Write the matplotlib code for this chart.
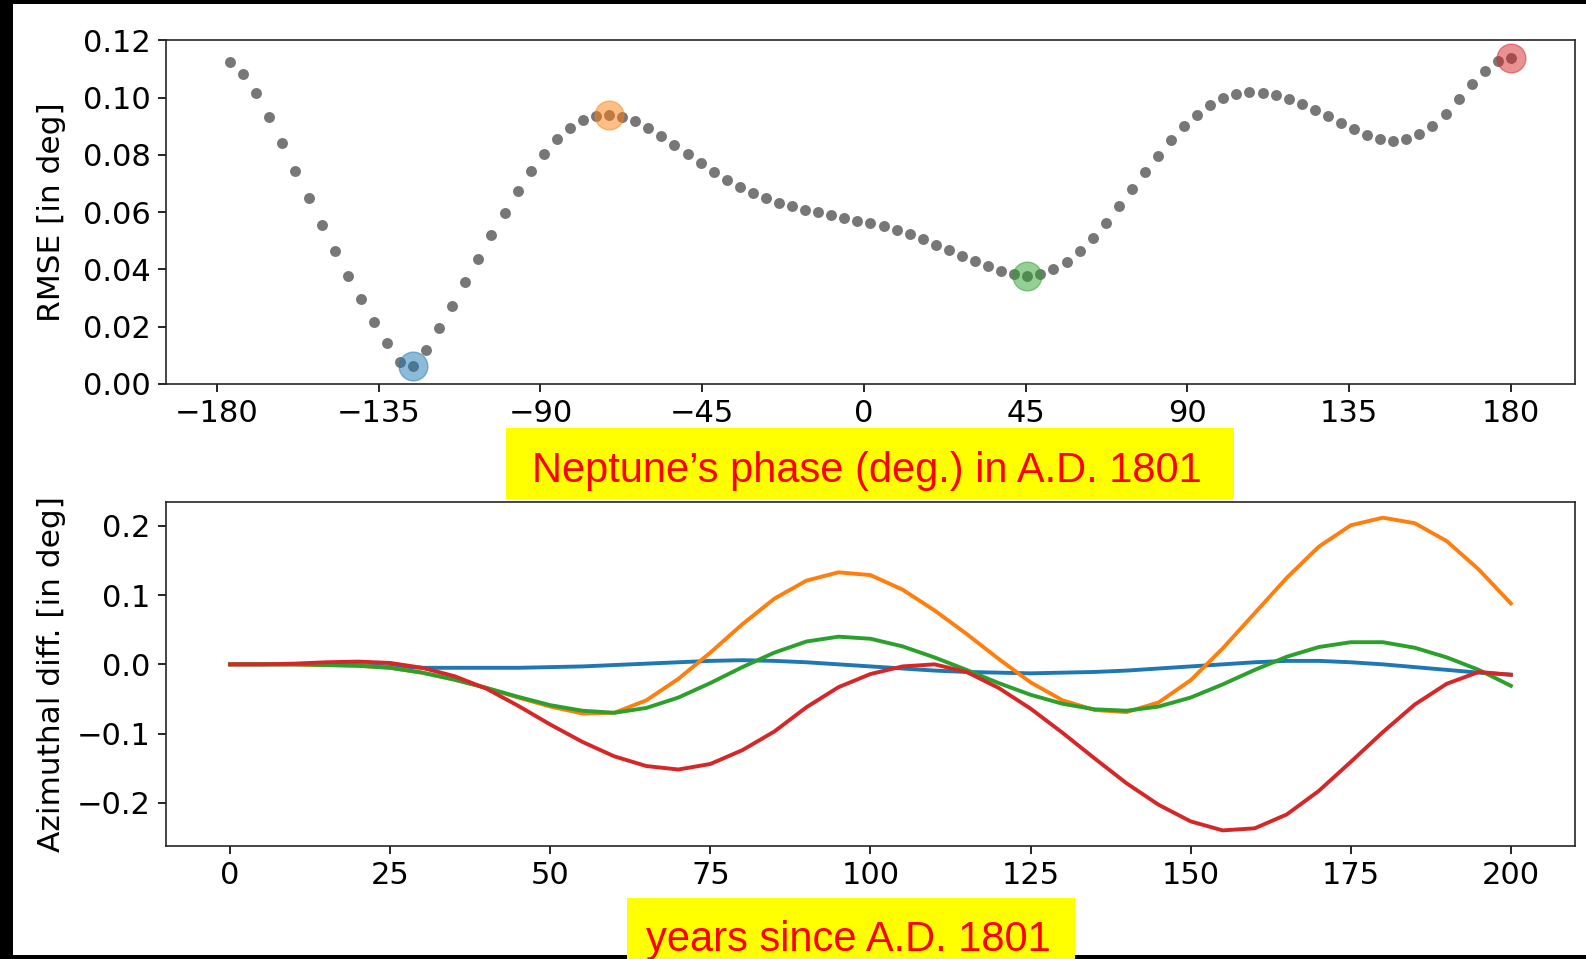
import numpy as np
import matplotlib.pyplot as plt
from matplotlib.patches import Rectangle

# RMSE of the fit for each assumed Neptune phase in 1801
phase = np.linspace(-180, 180, 100)[1:]
rmse = [0.1125, 0.1083, 0.1015, 0.0934, 0.0841, 0.0745, 0.0649, 0.0556, 0.0465, 0.0378,
        0.0297, 0.0216, 0.0143, 0.0076, 0.0064, 0.0120, 0.0197, 0.0274, 0.0355, 0.0437,
        0.0520, 0.0599, 0.0675, 0.0743, 0.0804, 0.0855, 0.0895, 0.0922, 0.0936, 0.0940,
        0.0934, 0.0917, 0.0893, 0.0866, 0.0836, 0.0803, 0.0771, 0.0741, 0.0714,
        0.0689, 0.0668, 0.0648, 0.0633, 0.0621, 0.0609, 0.0600, 0.0591, 0.0580, 0.0571,
        0.0562, 0.0551, 0.0537, 0.0523, 0.0506, 0.0487, 0.0467, 0.0447, 0.0430, 0.0411,
        0.0395, 0.0383, 0.0378, 0.0385, 0.0401, 0.0427, 0.0465, 0.0509, 0.0563, 0.0621,
        0.0680, 0.0740, 0.0798, 0.0852, 0.0900, 0.0940, 0.0973, 0.0998, 0.1013, 0.1019,
        0.1017, 0.1009, 0.0994, 0.0978, 0.0958, 0.0936, 0.0911, 0.0889, 0.0869, 0.0855,
        0.0849, 0.0856, 0.0872, 0.0902, 0.0944, 0.0994, 0.1048, 0.1095, 0.1128, 0.1140]

# the four phases picked out (index into phase) and their colours
picks = [14, 29, 61, 98]
pick_colors = ['tab:blue', 'tab:orange', 'tab:green', 'tab:red']

# azimuthal difference over 200 years for the four picked phases
years = np.arange(0, 201, 5)
diff_blue = [0.000, 0.000, 0.000, 0.000, -0.001, -0.003, -0.005, -0.005, -0.005, -0.005,
             -0.004, -0.003, -0.001, 0.001, 0.003, 0.005, 0.006, 0.005, 0.003, 0.000,
             -0.003, -0.006, -0.009, -0.011, -0.012, -0.013, -0.012, -0.011, -0.009, -0.006,
             -0.003, 0.000, 0.003, 0.005, 0.005, 0.003, 0.000, -0.004, -0.008, -0.012, -0.015]
diff_orange = [0.000, 0.000, 0.000, -0.001, -0.002, -0.005, -0.012, -0.022, -0.034, -0.048,
               -0.061, -0.071, -0.070, -0.052, -0.021, 0.017, 0.058, 0.095, 0.121, 0.133,
               0.129, 0.108, 0.078, 0.044, 0.008, -0.026, -0.052, -0.066, -0.069, -0.055,
               -0.023, 0.023, 0.074, 0.125, 0.170, 0.201, 0.212, 0.204, 0.178, 0.137, 0.088]
diff_green = [0.000, 0.000, 0.000, -0.001, -0.002, -0.005, -0.012, -0.022, -0.034, -0.047,
              -0.059, -0.067, -0.070, -0.063, -0.048, -0.027, -0.004, 0.017, 0.033, 0.040,
              0.037, 0.026, 0.010, -0.008, -0.027, -0.044, -0.057, -0.065, -0.067, -0.061,
              -0.048, -0.029, -0.008, 0.011, 0.025, 0.032, 0.032, 0.024, 0.010, -0.008, -0.031]
diff_red = [0.000, 0.000, 0.001, 0.003, 0.004, 0.002, -0.005, -0.017, -0.035, -0.060,
            -0.087, -0.112, -0.133, -0.147, -0.152, -0.144, -0.124, -0.097, -0.062, -0.033,
            -0.014, -0.003, 0.000, -0.011, -0.034, -0.064, -0.099, -0.136, -0.172, -0.203,
            -0.227, -0.240, -0.237, -0.217, -0.183, -0.141, -0.098, -0.058, -0.028, -0.011, -0.015]

plt.rcParams['font.size'] = 22
plt.rcParams['axes.linewidth'] = 1.2
plt.rcParams['axes.edgecolor'] = '#262626'
plt.rcParams['xtick.major.size'] = 6
plt.rcParams['ytick.major.size'] = 6
plt.rcParams['xtick.major.width'] = 1.2
plt.rcParams['ytick.major.width'] = 1.2
plt.rcParams['xtick.major.pad'] = 5
plt.rcParams['ytick.major.pad'] = 5

fig = plt.figure(figsize=(15.86, 9.59), dpi=100)
ax1 = fig.add_axes([0.1047, 0.5996, 0.8883, 0.3582])
ax2 = fig.add_axes([0.1047, 0.1178, 0.8883, 0.3587])

#top: RMSE vs phase
rmse = np.array(rmse)
ax1.scatter(phase, rmse, s=62, color='#777777', lw=0, zorder=2)
for i, c in zip(picks, pick_colors):
    ax1.scatter(phase[i], rmse[i], s=430, color=c, alpha=0.5, zorder=3)
ax1.set_ylim(0, 0.12)
ax1.set_yticks(np.arange(0, 0.121, 0.02))
ax1.set_xticks(np.arange(-180, 181, 45))
ax1.set_ylabel('RMSE [in deg]', fontsize=22.5)
ax1.yaxis.set_label_coords(-0.071, 0.5)

#bottom: azimuthal difference vs time
for d, c in zip([diff_blue, diff_orange, diff_green, diff_red], pick_colors):
    ax2.plot(years, d, color=c, lw=2.8, solid_joinstyle='round')
ax2.set_xticks(np.arange(0, 201, 25))
ax2.set_yticks([-0.2, -0.1, 0.0, 0.1, 0.2])
ax2.set_ylabel('Azimuthal diff. [in deg]', fontsize=22.5)
ax2.yaxis.set_label_coords(-0.071, 0.5)

#slide frame (black edges)
for xy, w, h in [((0, 0), 0.0082, 1), ((0, 0.9958), 1, 0.0042), ((0, 0), 1, 0.0042)]:
    fig.add_artist(Rectangle(xy, w, h, transform=fig.transFigure, color='k', lw=0))

#yellow axis captions
fig.add_artist(Rectangle((0.3190, 0.4797), 0.4590, 0.0740, transform=fig.transFigure,
                         color='#ffff00', lw=0))
fig.text(0.5467, 0.4974, 'Neptune\u2019s phase (deg.) in A.D. 1801', color='#ff0000',
         fontsize=30, family='Liberation Sans', ha='center', va='baseline')
fig.add_artist(Rectangle((0.3953, 0), 0.2825, 0.0636, transform=fig.transFigure,
                         color='#ffff00', lw=0))
fig.text(0.535, 0.0083, 'years since A.D. 1801', color='#ff0000',
         fontsize=30, family='Liberation Sans', ha='center', va='baseline')

plt.savefig('out.png', dpi=100)
